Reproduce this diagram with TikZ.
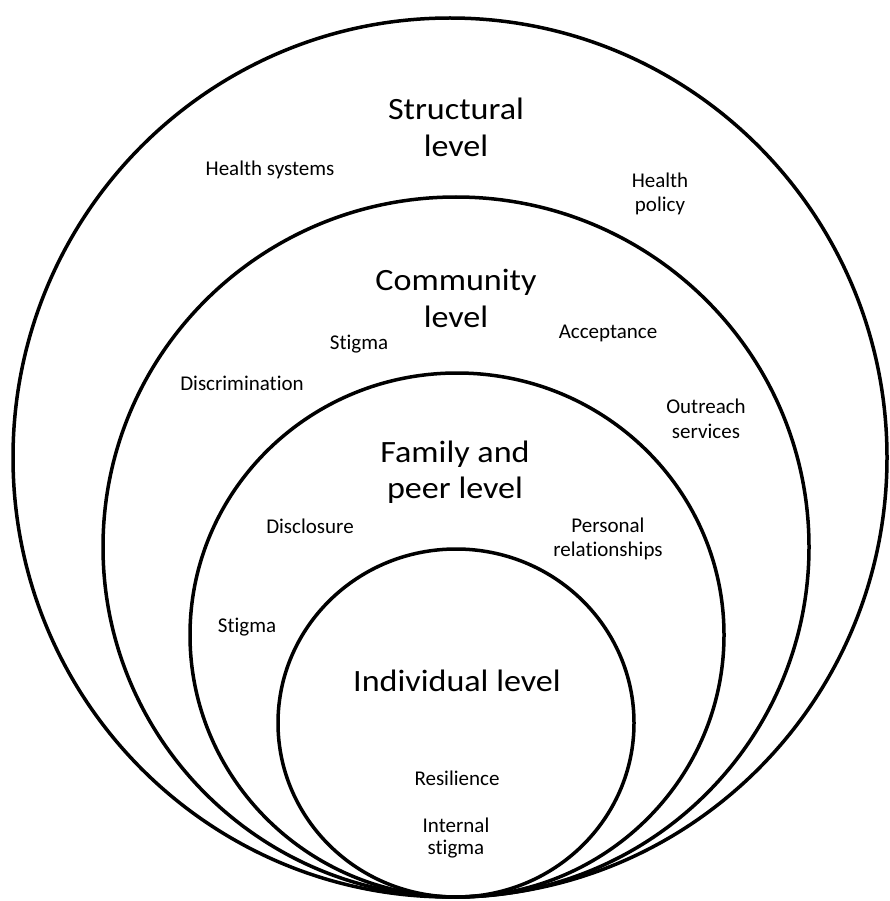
\documentclass[tikz,border=0pt]{standalone}
\usepackage{fontspec}
\setmainfont{Carlito}[Ligatures=NoCommon]
\newfontfamily\bigfont{Carlito}[Ligatures=NoCommon,FakeStretch=1.1]
\begin{document}
\begin{tikzpicture}[x=1pt,y=-1pt,
  ring/.style={draw=black,line width=3.5pt},
  biglabel/.style={inner sep=0pt,align=center,font=\bigfont\fontsize{31}{37}\selectfont},
  smalllabel/.style={inner sep=0pt,align=center,font=\fontsize{21}{24.5}\selectfont}]
\useasboundingbox[fill=white] (0,0) rectangle (889,901);
% rings
\draw[ring] (450,457.5) ellipse [x radius=437, y radius=439.5];
\draw[ring] (456,547) ellipse [x radius=353, y radius=350];
\draw[ring] (457,635) ellipse [x radius=267, y radius=262];
\draw[ring] (456,723) ellipse [x radius=178, y radius=174];
% structural level
\node[biglabel] (structural) at (456,127) {Structural\\level};
\node[smalllabel] (healthsys) at (270,170) {Health systems};
\node[smalllabel] (healthpol) at (660,194) {Health\\policy};
% community level
\node[biglabel] (community) at (456,298) {Community\\level};
\node[smalllabel] (stigmacom) at (359,344) {Stigma};
\node[smalllabel] (acceptance) at (608,333) {Acceptance};
\node[smalllabel] (discrim) at (242,383) {Discrimination};
\node[smalllabel] (outreach) at (706,419) {Outreach\\services};
% family and peer level
\node[biglabel,font=\bigfont\fontsize{31}{35.5}\selectfont] (family) at (455,472) {Family and\\peer level};
\node[smalllabel] (disclosure) at (310,526) {Disclosure};
\node[smalllabel] (personal) at (608,539) {Personal\\relationships};
\node[smalllabel] (stigmafam) at (247,627) {Stigma};
% individual level
\node[biglabel] (individual) at (457,681) {Individual level};
\node[smalllabel] (resilience) at (457,778) {Resilience};
\node[smalllabel,font=\fontsize{21}{22}\selectfont] (internal) at (456,838) {Internal\\stigma};
\end{tikzpicture}
\end{document}
